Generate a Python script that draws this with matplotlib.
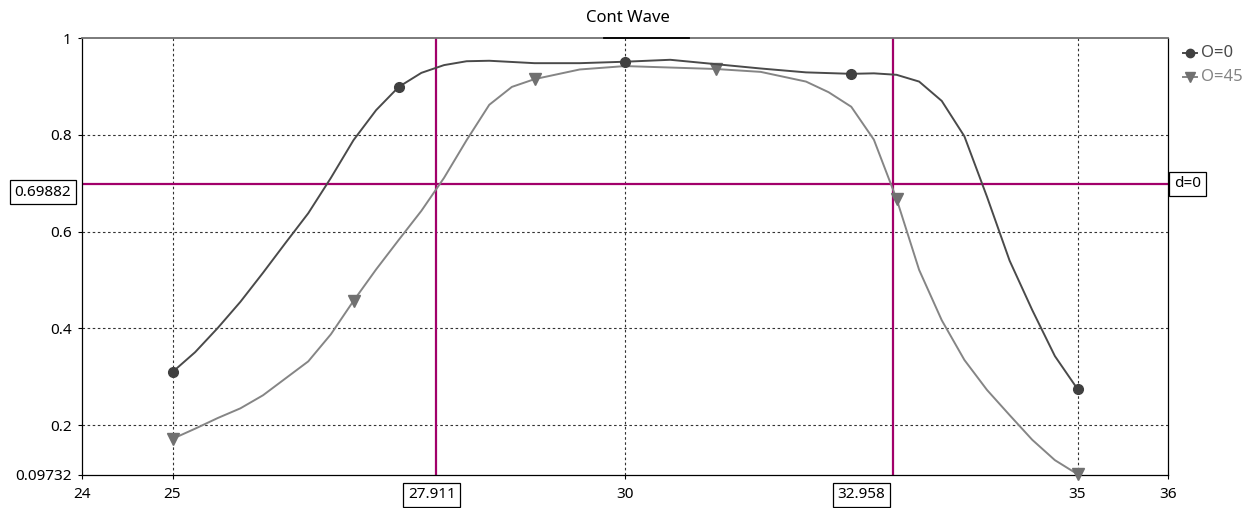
import numpy as np
import matplotlib
matplotlib.use("Agg")
import matplotlib.pyplot as plt
from matplotlib.lines import Line2D

# ---- data ----
x_o0 = [25, 25.25, 25.5, 25.75, 26, 26.25, 26.5, 26.75, 27, 27.25, 27.5, 27.75, 28, 28.25,
        28.5, 29, 29.5, 30, 30.5, 31, 31.5, 32, 32.5, 32.75, 33, 33.25, 33.5, 33.75,
        34, 34.25, 34.5, 34.75, 35]
y_o0 = [0.310, 0.351, 0.401, 0.455, 0.515, 0.577, 0.638, 0.711, 0.789, 0.851, 0.899, 0.928,
        0.944, 0.952, 0.953, 0.948, 0.948, 0.951, 0.955, 0.946, 0.937, 0.929, 0.926, 0.927,
        0.924, 0.910, 0.870, 0.797, 0.672, 0.540, 0.438, 0.343, 0.275]
marker_x_o0 = [25, 27.5, 30, 32.5, 35]

x_o45 = [25, 25.25, 25.5, 25.75, 26, 26.25, 26.5, 26.75, 27, 27.25, 27.5, 27.75, 28, 28.25,
         28.5, 28.75, 29, 29.5, 30, 30.5, 31, 31.5, 32, 32.25, 32.5, 32.75, 33, 33.25,
         33.5, 33.75, 34, 34.25, 34.5, 34.75, 35]
y_o45 = [0.172, 0.193, 0.215, 0.235, 0.262, 0.297, 0.332, 0.388, 0.457, 0.522, 0.583, 0.643,
         0.711, 0.789, 0.862, 0.899, 0.915, 0.935, 0.942, 0.939, 0.936, 0.930, 0.910, 0.888,
         0.858, 0.790, 0.668, 0.521, 0.417, 0.335, 0.273, 0.221, 0.170, 0.128, 0.099]
marker_x_o45 = [25, 27, 29, 31, 33, 35]

series_labels = ["O=0", "O=45"]
title = "Cont Wave"

h_level = 0.69882
h_label = "d=0"
v_levels = [27.911, 32.958]

x_min, x_max = 24, 36
y_min, y_max = 0.09732, 1
x_ticks = [24, 25, 30, 35, 36]
y_ticks = [0.09732, 0.2, 0.4, 0.6, 0.8, 1]
y_tick_labels = ["0.09732", "0.2", "0.4", "0.6", "0.8", "1"]
x_grid = [25, 30, 35]
y_grid = [0.2, 0.4, 0.6, 0.8]

# ---- style ----
plt.rcParams['font.family'] = ['Noto Sans', 'DejaVu Sans']
W, H = 1254, 508
fig = plt.figure(figsize=(W / 100, H / 100), dpi=100)
ax = fig.add_axes([82 / W, 1 - 475 / H, (1168 - 82) / W, (475 - 38) / H])
ax.set_xlim(x_min, x_max)
ax.set_ylim(y_min, y_max)

grid_kw = dict(color='#333333', lw=0.8, dashes=(2.3, 2.3), zorder=1)
for gx in x_grid:
    ax.axvline(gx, **grid_kw)
for gy in y_grid:
    ax.axhline(gy, **grid_kw)

purple = '#A2006A'
ax.axhline(h_level, color=purple, lw=1.6, zorder=2)
for v in v_levels:
    ax.axvline(v, color=purple, lw=1.6, zorder=2)

c0 = '#4a4a4a'
c45 = '#858585'
m0 = [x_o0.index(v) for v in marker_x_o0]
m45 = [x_o45.index(v) for v in marker_x_o45]
ax.plot(x_o0, y_o0, color=c0, lw=1.4, marker='o', ms=7, markevery=m0,
        mfc='#404040', mec='#404040', zorder=4, clip_on=False, solid_joinstyle='round')
ax.plot(x_o45, y_o45, color=c45, lw=1.4, marker='v', ms=8, markevery=m45,
        mfc='#707070', mec='#707070', zorder=3, clip_on=False, solid_joinstyle='round')

# ticks
ax.set_xticks(x_ticks)
ax.set_xticklabels([str(t) for t in x_ticks])
ax.set_yticks(y_ticks)
ax.set_yticklabels(y_tick_labels)
ax.tick_params(axis='both', length=3, width=0.8, color='black', labelsize=11)
ax.tick_params(axis='x', pad=5.5)
ax.tick_params(axis='y', pad=4.5)

for s in ['left', 'bottom', 'right']:
    ax.spines[s].set_color('black')
    ax.spines[s].set_linewidth(0.9)
ax.spines['top'].set_color('#707070')
ax.spines['top'].set_linewidth(1.3)
ax.plot([0.481, 0.559], [1, 1], transform=ax.transAxes, color='black', lw=1.3,
        clip_on=False, zorder=6)

box = dict(boxstyle='square,pad=0.3', fc='white', ec='black', lw=0.9)
# boxed value labels
ax.text(-0.01, h_level - 0.0175, f"{h_level:.5f}", transform=ax.get_yaxis_transform(),
        ha='right', va='center', fontsize=11, bbox=box)
ax.text(1.0055, h_level, h_label, transform=ax.get_yaxis_transform(),
        ha='left', va='center', fontsize=11, bbox=box)
ax.text(v_levels[0] - 0.045, -0.045, f"{v_levels[0]:.3f}", transform=ax.get_xaxis_transform(),
        ha='center', va='center', fontsize=11, bbox=box)
ax.text(v_levels[1] - 0.08, -0.045, f"{v_levels[1]:.3f}", transform=ax.get_xaxis_transform(),
        ha='right', va='center', fontsize=11, bbox=box)

fig.text(628 / W, 1 - 18 / H, title, ha='center', va='center', fontsize=12)

# legend (outside right)
for i, (lab, c, mk, mc, ms) in enumerate([(series_labels[0], c0, 'o', '#404040', 6),
                                          (series_labels[1], c45, 'v', '#707070', 7)]):
    yy = 1 - (53 + 24 * i) / H
    fig.add_artist(Line2D([1183 / W, 1197 / W], [yy, yy], color=c, lw=1.4,
                          transform=fig.transFigure))
    fig.add_artist(Line2D([1190 / W], [yy], color=c, marker=mk, ms=ms, mfc=mc, mec=mc,
                          transform=fig.transFigure))
    fig.text(1201 / W, yy, lab, color=c, fontsize=12, ha='left', va='center')

fig.savefig("out.png", dpi=100)
